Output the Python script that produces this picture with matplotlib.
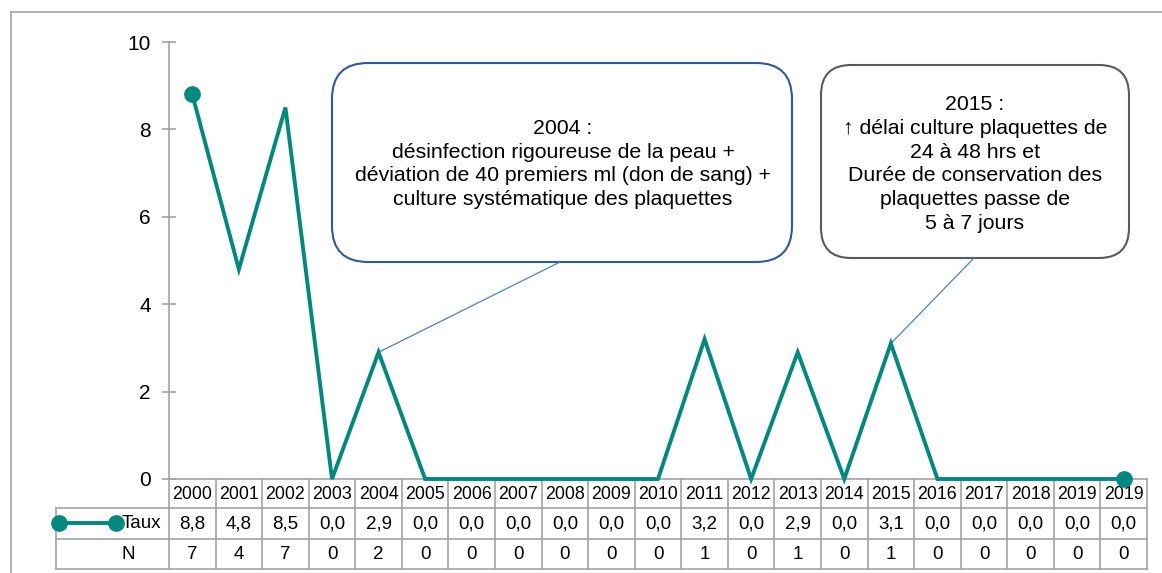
"""
taux par annee avec tableau de donnees et deux encadres
"""

import matplotlib
matplotlib.use("Agg")
import matplotlib.pyplot as plt
from matplotlib.patches import FancyBboxPatch
from matplotlib.transforms import blended_transform_factory

plt.rcParams['font.family'] = ['Liberation Sans', 'DejaVu Sans']

# data
# --------------------------
years = ['2000', '2001', '2002', '2003', '2004', '2005', '2006', '2007', '2008', '2009', '2010',
         '2011', '2012', '2013', '2014', '2015', '2016', '2017', '2018', '2019', '2019']
taux = [8.8, 4.8, 8.5, 0.0, 2.9, 0.0, 0.0, 0.0, 0.0, 0.0, 0.0,
        3.2, 0.0, 2.9, 0.0, 3.1, 0.0, 0.0, 0.0, 0.0, 0.0]
n_cases = [7, 4, 7, 0, 2, 0, 0, 0, 0, 0, 0, 1, 0, 1, 0, 1, 0, 0, 0, 0, 0]
y_ticks = [0, 2, 4, 6, 8, 10]

note_2004 = ("2004 :\ndésinfection rigoureuse de la peau +\n"
             "déviation de 40 premiers ml (don de sang) +\nculture systématique des plaquettes")
note_2015 = ("2015 :\n↑ délai culture plaquettes de\n24 à 48 hrs et\n"
             "Durée de conservation des\nplaquettes passe de\n5 à 7 jours")

teal = '#00897f'
grid_col = '#a3a3a3'

# figure + overlay in pixel units (y downwards)
# --------------------------
W, H = 1162, 573
fig = plt.figure(figsize=(W / 100, H / 100), dpi=100)
ov = fig.add_axes([0, 0, 1, 1], zorder=0)
ov.set_xlim(0, W)
ov.set_ylim(H, 0)
ov.axis('off')

ax = fig.add_axes([169 / W, (H - 479) / H, 978 / W, 437 / H], zorder=1)
ax.patch.set_alpha(0)
x = list(range(len(years)))
ax.plot(x, taux, color=teal, lw=2.8, marker='o', markersize=11,
        markevery=[0, len(x) - 1], clip_on=False, solid_joinstyle='miter', zorder=5)
ax.set_xlim(-0.5, len(x) - 0.5)
ax.set_ylim(0, 10)
ax.set_yticks(y_ticks)
ax.set_xticks([])
for s in ['top', 'right', 'bottom']:
    ax.spines[s].set_visible(False)
ax.spines['left'].set_color(grid_col)
ax.spines['left'].set_linewidth(1.2)
ax.tick_params(axis='y', direction='inout', length=10, width=1.2, color=grid_col,
               labelsize=15, pad=8)

# outer frame
ov.plot([11, W], [12, 12], color=grid_col, lw=1.2)
ov.plot([11, 11], [12, H], color=grid_col, lw=1.2)

# data table below the axis
# --------------------------
tr = blended_transform_factory(ax.transData, ov.transData)
row_edges = [479, 507.5, 538.5, 569]
px_w = 978 / len(x)
left = -0.5 - (169 - 56) / px_w
right = len(x) - 0.5
ov.plot([-0.5, right], [row_edges[0]] * 2, color=grid_col, lw=1.2, transform=tr, clip_on=False)
for yy in row_edges[1:]:
    ov.plot([left, right], [yy, yy], color=grid_col, lw=1.2, transform=tr, clip_on=False)
for i in range(len(x) + 1):
    ov.plot([i - 0.5, i - 0.5], [row_edges[0], row_edges[-1]], color=grid_col, lw=1.2,
            transform=tr, clip_on=False)
ov.plot([left, left], [row_edges[1], row_edges[-1]], color=grid_col, lw=1.2, transform=tr, clip_on=False)

row_mid = [(row_edges[k] + row_edges[k + 1]) / 2 for k in range(3)]
for i, yr in enumerate(years):
    ov.text(i, row_mid[0] + 1, yr, ha='center', va='center', fontsize=12.8, transform=tr)
    ov.text(i, row_mid[1] + 1, f"{taux[i]:.1f}".replace('.', ','), ha='center', va='center',
            fontsize=13.5, transform=tr)
    ov.text(i, row_mid[2] + 1, str(n_cases[i]), ha='center', va='center', fontsize=13.5, transform=tr)

# legend key in the row label
key_x = [-0.5 - (169 - 59) / px_w, -0.5 - (169 - 116) / px_w]
ov.plot(key_x, [row_mid[1]] * 2, color=teal, lw=2.8, marker='o', markersize=11,
        transform=tr, clip_on=False)
ov.text(-0.5 - (169 - 141) / px_w, row_mid[1] + 1, 'Taux', ha='center', va='center',
        fontsize=13.5, transform=tr)
ov.text(-0.5 - (169 - 128) / px_w, row_mid[2] + 1, 'N', ha='center', va='center',
        fontsize=13.5, transform=tr)

# callouts
# --------------------------
box1 = FancyBboxPatch((332, 63), 460, 199, boxstyle='round,pad=0,rounding_size=36',
                      facecolor='white', edgecolor='#2f58a3', lw=1.5)
ov.add_patch(box1)
ov.text(563, 164, note_2004, ha='center', va='center', fontsize=15.3, linespacing=1.33)
ax.annotate('', xy=(4, taux[4]), xycoords='data', xytext=(560, 262), textcoords=ov.transData,
            arrowprops=dict(arrowstyle='-', color='#4a80c4', lw=0.9, shrinkA=0, shrinkB=0))

box2 = FancyBboxPatch((821, 65), 308, 193, boxstyle='round,pad=0,rounding_size=30',
                      facecolor='white', edgecolor='#5a5a5a', lw=1.5)
ov.add_patch(box2)
ov.text(975, 164, note_2015, ha='center', va='center', fontsize=15.3, linespacing=1.33)
ax.annotate('', xy=(15, taux[15]), xycoords='data', xytext=(974, 258), textcoords=ov.transData,
            arrowprops=dict(arrowstyle='-', color='#4a80c4', lw=0.9, shrinkA=0, shrinkB=0))

fig.savefig('out.png', dpi=100)
